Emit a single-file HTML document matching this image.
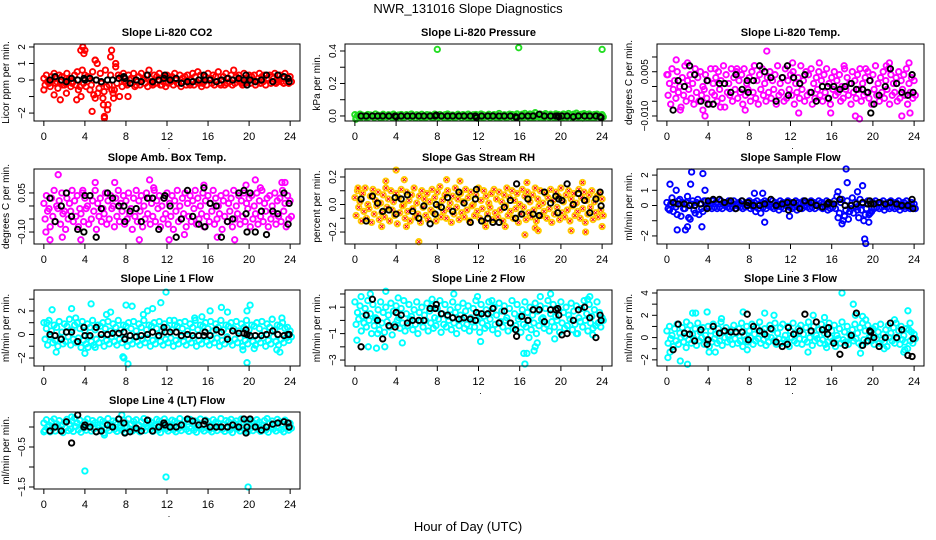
<!DOCTYPE html>
<html><head><meta charset="utf-8"><style>
html,body{margin:0;padding:0;background:#fff;}
svg{display:block;font-family:"Liberation Sans",sans-serif;}
</style></head><body>
<svg id="chart" width="936" height="540" viewBox="0 0 936 540">
<text x="468" y="13" text-anchor="middle" font-size="13">NWR_131016  Slope Diagnostics</text>
<text x="468" y="531" text-anchor="middle" font-size="13">Hour of Day (UTC)</text>
</svg>
<script>
const HOURS=[0,0.25,0.5,0.75,1,1.25,1.5,1.75,2,2.25,2.5,2.75,3,3.25,3.5,3.75,4,4.25,4.5,4.75,5,5.25,5.5,5.75,6,6.25,6.5,6.75,7,7.25,7.5,7.75,8,8.25,8.5,8.75,9,9.25,9.5,9.75,10,10.25,10.5,10.75,11,11.25,11.5,11.75,12,12.25,12.5,12.75,13,13.25,13.5,13.75,14,14.25,14.5,14.75,15,15.25,15.5,15.75,16,16.25,16.5,16.75,17,17.25,17.5,17.75,18,18.25,18.5,18.75,19,19.25,19.5,19.75,20,20.25,20.5,20.75,21,21.25,21.5,21.75,22,22.25,22.5,22.75,23,23.25,23.5,23.75,24];
const BLACK_HOURS=[0.6,1.1,1.7,2.2,2.7,3.3,3.9,4.0,4.5,5.1,5.6,6.2,6.7,7.3,7.8,7.9,8.4,9.0,9.5,10.1,10.6,11.2,11.7,11.8,12.3,12.9,13.4,14.0,14.5,15.1,15.6,15.7,16.2,16.8,17.3,17.9,18.4,19.0,19.5,19.7,19.8,20.1,20.6,21.2,21.7,22.3,22.8,23.4,23.8,23.9];
const X_TICKS=[0,4,8,12,16,20,24];

// CO2
const co2A=[0.1,0.3,-0.2,0.2,0.4,-0.1,0.3,0.2,-0.3,0.4,0.1,-0.2,0.3,0.5,-0.4,0.6,0.3,0.2,-0.6,0.5,1.2,-0.8,0.4,-1.1,0.6,-1.5,0.3,-0.8,0.8,0.3,0.2,0.4,-0.2,0.3,0.1,0.4,-0.3,0.2,0.4,0.1,0.3,0.6,-0.2,0.3,0.2,0.4,-0.3,0.2,0.3,0.1,0.2,0.4,-0.2,0.3,0.1,0.2,0.3,-0.3,0.4,0.2,0.5,0.3,-0.2,0.2,0.4,0.1,0.3,0.2,0.5,-0.3,0.2,0.4,0.1,0.3,0.6,0.2,0.3,-0.2,0.4,0.1,0.3,0.2,0.3,-0.1,0.4,0.2,0.3,0.1,0.3,0.2,0.4,-0.1,0.3,0.2,0.4,0.1,0.2];
const co2B=[-0.3,-0.1,-0.4,0.0,-0.2,-0.5,-0.1,-0.3,-0.2,0.0,-0.4,-0.1,-0.3,-0.6,-1.0,-0.2,-0.4,0.1,-0.3,-0.9,0.0,-0.5,-0.2,-0.7,-0.4,-0.3,-0.6,-0.6,-0.2,-1.0,-0.4,-0.1,-0.3,0.0,-0.2,-0.4,-0.1,-0.3,0.0,-0.2,-0.4,-0.1,-0.3,-0.2,0.0,-0.3,-0.1,-0.4,-0.2,-0.1,-0.3,0.0,-0.2,-0.4,-0.1,-0.3,-0.2,0.0,-0.3,-0.1,-0.2,-0.4,-0.1,-0.3,0.0,-0.2,-0.3,-0.1,-0.2,0.0,-0.3,-0.2,-0.1,-0.3,-0.2,0.0,-0.1,-0.3,-0.2,-0.1,-0.2,0.0,-0.3,-0.1,-0.2,-0.1,-0.3,0.0,-0.2,-0.1,-0.2,0.0,-0.1,-0.2,-0.1,-0.2,-0.1];
const co2OutH=[3.6,3.8,4.0,3.9,5.0,5.2,4.7,5.0,5.8,6.2,5.9,6.5,6.6,7.0,6.8,8.2,1.0,1.6,2.2,3.2,5.9,0.0];
const co2OutV=[1.8,2.0,1.8,1.6,1.2,1.0,-1.9,-1.1,-1.5,-1.8,-2.3,1.4,1.8,1.0,-1.1,-1.0,-0.9,-1.2,-0.8,-1.2,-2.2,-0.6];
const co2Blk=[0.0,0.2,0.0,-0.1,0.1,0.0,0.1,0.0,0.1,0.0,-0.1,0.0,0.0,0.1,0.2,0.1,-0.2,0.0,-0.1,0.3,-0.1,0.0,0.1,0.3,0.0,0.1,-0.2,-0.1,-0.1,0.0,0.3,0.0,0.0,-0.1,0.0,0.1,0.0,0.1,0.0,0.3,-0.3,0.0,-0.1,0.0,0.3,-0.1,0.3,0.2,0.1,-0.1];

// Pressure
const prsA=[0.008,0.002,0.011,0.004,-0.002,0.009,0.006,0.001,0.012,0.005,0.003,0.010,0.002,0.007,0.004,0.011,0.001,0.006,0.009,0.003,0.008,0.005,0.012,0.002,0.007,0.004,0.010,0.001,0.008,0.006,0.003,0.011,0.005,0.009,0.002,0.007,0.012,0.004,0.006,0.001,0.010,0.003,0.008,0.005,0.011,0.002,0.007,0.009,0.004,0.012,0.006,0.001,0.010,0.003,0.008,0.005,0.015,0.002,0.007,0.004,0.011,0.009,0.006,0.013,0.003,0.010,0.016,0.005,0.012,0.008,0.018,0.004,0.011,0.007,0.014,0.006,0.010,0.003,0.013,0.009,0.005,0.012,0.008,0.015,0.004,0.011,0.017,0.006,0.010,0.014,0.007,0.012,0.003,0.009,0.011,0.005,0.008];
const prsB=[-0.012,-0.004,-0.008,-0.002,-0.010,-0.005,-0.001,-0.009,-0.003,-0.007,-0.011,-0.004,-0.006,-0.002,-0.009,-0.005,-0.008,-0.003,-0.010,-0.006,-0.001,-0.007,-0.004,-0.011,-0.002,-0.008,-0.005,-0.009,-0.003,-0.006,-0.010,-0.004,-0.007,-0.002,-0.009,-0.005,-0.011,-0.003,-0.008,-0.006,-0.001,-0.010,-0.004,-0.007,-0.012,-0.005,-0.009,-0.014,-0.003,-0.008,-0.006,-0.002,-0.010,-0.004,-0.007,-0.005,-0.009,-0.003,-0.008,-0.006,-0.001,-0.010,-0.004,-0.007,-0.005,-0.009,-0.002,-0.008,-0.006,-0.011,-0.003,-0.007,-0.005,-0.009,-0.002,-0.008,-0.004,-0.010,-0.006,-0.003,-0.009,-0.005,-0.007,-0.002,-0.011,-0.004,-0.008,-0.006,-0.013,-0.003,-0.009,-0.005,-0.012,-0.007,-0.004,-0.010,-0.006];
const prsOutH=[8.0,15.9,24.0,0.1,17.5];
const prsOutV=[0.41,0.42,0.41,-0.02,0.02];
const prsBlk=[0.0,0.0,0.0,0.0,0.0,0.0,0.0,-0.005,0.0,0.0,0.0,0.0,0.0,0.0,0.0,0.005,0.0,0.0,0.0,0.0,0.0,0.0,0.0,-0.01,0.0,0.0,0.0,0.0,0.0,0.0,-0.005,-0.01,0.0,0.0,0.0,0.01,0.0,0.0,0.0,0.0,-0.005,0.0,0.0,-0.005,0.0,0.0,0.0,0.0,-0.005,-0.01];

// Li-820 temp
const tmpA=[0.004,0.001,0.006,0.002,0.005,0.000,0.003,0.007,0.002,0.004,0.001,0.006,0.003,0.005,0.000,0.004,0.002,0.006,0.001,0.003,0.005,0.002,0.007,0.004,0.001,0.006,0.003,0.005,0.002,0.004,0.006,0.001,0.003,0.005,0.007,0.002,0.004,0.006,0.001,0.003,0.005,0.002,0.004,0.007,0.001,0.003,0.006,0.002,0.004,0.005,0.001,0.003,0.007,0.002,0.005,0.004,0.006,0.001,0.003,0.005,0.002,0.004,0.006,0.001,0.003,0.005,0.002,0.004,0.000,0.006,0.003,0.001,0.005,0.002,0.004,0.006,0.001,0.003,0.005,0.002,0.004,0.007,0.001,0.003,0.005,0.002,0.006,0.004,0.001,0.003,0.005,0.002,0.004,0.006,0.001,0.003,0.002];
const tmpB=[-0.003,-0.006,-0.001,-0.004,-0.002,-0.007,-0.003,-0.005,-0.001,-0.004,-0.006,-0.002,-0.005,-0.003,-0.001,-0.004,-0.006,-0.002,-0.003,-0.005,-0.001,-0.004,-0.007,-0.002,-0.003,-0.005,-0.001,-0.004,-0.002,-0.006,-0.003,-0.001,-0.005,-0.002,-0.004,-0.006,-0.001,-0.003,-0.005,-0.002,-0.004,-0.001,-0.006,-0.003,-0.002,-0.005,-0.004,-0.001,-0.003,-0.006,-0.002,-0.004,-0.001,-0.005,-0.003,-0.002,-0.006,-0.004,-0.001,-0.003,-0.005,-0.002,-0.004,-0.006,-0.001,-0.003,-0.002,-0.005,-0.004,-0.001,-0.003,-0.006,-0.002,-0.004,-0.001,-0.005,-0.003,-0.002,-0.004,-0.006,-0.001,-0.003,-0.005,-0.002,-0.004,-0.001,-0.006,-0.003,-0.002,-0.005,-0.004,-0.001,-0.003,-0.006,-0.002,-0.004,-0.003];
const tmpOutH=[0.9,1.3,2.0,3.7,3.9,4.7,5.2,7.6,8.5,9.7,10.0,10.7,12.2,12.8,14.8,15.9,17.2,18.3,18.7,19.3,21.3,21.6,22.8,23.5,23.6,0.1,3.5,6.8];
const tmpOutV=[0.009,-0.008,0.008,-0.010,-0.013,0.006,-0.007,-0.008,0.007,0.012,-0.013,-0.012,0.008,-0.009,0.008,-0.009,0.007,-0.010,-0.011,0.006,0.007,0.008,-0.010,0.008,-0.009,0.004,-0.008,0.006];
const tmpBlk=[-0.008,0.002,0.000,0.007,0.004,-0.005,0.002,-0.006,-0.006,0.001,0.001,-0.002,0.004,-0.001,0.002,-0.002,0.002,0.007,0.005,0.003,-0.005,0.003,0.007,-0.003,0.003,0.001,0.004,-0.002,-0.005,0.000,0.000,-0.004,0.000,-0.001,0.000,0.001,-0.001,-0.001,-0.002,0.002,-0.009,-0.006,-0.003,0.000,0.006,0.001,-0.002,-0.003,0.004,-0.002];

// Amb box temp
const ambA=[0.01,0.04,-0.01,0.03,0.06,0.00,0.02,0.05,-0.02,0.03,0.01,0.06,0.02,0.04,-0.01,0.05,0.03,0.00,0.04,0.02,0.06,0.01,0.03,-0.01,0.05,0.02,0.04,0.00,0.03,0.06,0.01,0.04,0.02,0.05,-0.01,0.03,0.06,0.02,0.04,0.00,0.05,0.03,0.01,0.06,0.02,0.04,0.00,0.03,0.05,0.01,0.04,0.02,0.06,0.00,0.03,0.05,0.01,0.04,0.02,0.06,0.03,0.00,0.05,0.02,0.04,0.01,0.06,0.03,0.00,0.04,0.02,0.05,0.01,0.03,0.06,0.00,0.04,0.02,0.05,0.01,0.03,0.04,0.00,0.05,0.02,0.06,0.01,0.03,0.04,0.00,0.05,0.02,0.03,0.06,0.01,0.04,0.02];
const ambB=[-0.05,-0.02,-0.08,-0.04,-0.06,-0.01,-0.07,-0.03,-0.09,-0.05,-0.02,-0.06,-0.04,-0.08,-0.03,-0.06,-0.01,-0.07,-0.05,-0.02,-0.09,-0.04,-0.06,-0.03,-0.07,-0.05,-0.01,-0.08,-0.04,-0.06,-0.02,-0.07,-0.05,-0.03,-0.09,-0.04,-0.06,-0.02,-0.08,-0.05,-0.03,-0.07,-0.04,-0.06,-0.01,-0.08,-0.05,-0.03,-0.07,-0.04,-0.09,-0.02,-0.06,-0.05,-0.03,-0.08,-0.04,-0.06,-0.01,-0.07,-0.05,-0.03,-0.08,-0.04,-0.06,-0.02,-0.07,-0.05,-0.03,-0.09,-0.04,-0.06,-0.02,-0.08,-0.05,-0.03,-0.07,-0.04,-0.06,-0.01,-0.08,-0.05,-0.03,-0.07,-0.04,-0.06,-0.02,-0.08,-0.05,-0.03,-0.07,-0.04,-0.06,-0.02,-0.08,-0.05,-0.04];
const ambOutH=[0.2,0.6,1.4,1.8,3.6,4.3,4.5,5.0,6.9,8.8,9.3,10.3,10.7,12.2,13.7,15.6,18.6,19.7,20.2,20.6,21.1,22.2,22.7,23.2,23.5,3.8,16.9];
const ambOutV=[-0.10,-0.13,0.12,-0.12,-0.13,-0.15,-0.17,0.09,0.09,-0.15,-0.13,0.10,0.07,-0.13,-0.11,0.08,-0.13,0.08,-0.16,0.10,0.07,-0.16,-0.15,0.09,0.09,0.06,-0.12];
const ambBlk=[0.03,-0.06,0.00,0.05,-0.04,-0.09,-0.10,0.04,0.04,-0.12,-0.01,0.05,0.03,0.00,0.00,-0.06,-0.02,-0.01,-0.06,0.03,0.03,-0.09,0.03,0.04,0.00,-0.12,-0.05,0.06,-0.04,-0.07,0.07,-0.08,0.01,0.00,-0.12,-0.06,-0.05,0.05,0.06,-0.03,-0.10,0.05,-0.10,-0.02,-0.11,-0.02,-0.03,0.05,-0.07,0.01];

// Gas stream RH
const rhA=[0.05,0.10,0.02,0.08,0.12,0.00,0.06,0.11,0.03,0.09,0.01,0.07,0.12,0.04,0.10,0.02,0.08,0.05,0.11,0.00,0.09,0.03,0.07,0.12,0.01,0.06,0.10,0.04,0.08,0.02,0.11,0.05,0.09,0.13,0.03,0.07,0.10,0.01,0.06,0.12,0.04,0.08,0.02,0.11,0.05,0.09,0.00,0.07,0.12,0.03,0.10,0.06,0.01,0.08,0.11,0.04,0.09,0.02,0.07,0.12,0.05,0.10,0.03,0.08,0.00,0.11,0.06,0.09,0.02,0.07,0.12,0.04,0.10,0.01,0.08,0.05,0.11,0.03,0.09,0.06,0.12,0.02,0.07,0.10,0.04,0.08,0.01,0.11,0.05,0.09,0.03,0.07,0.10,0.02,0.06,0.08,0.04];
const rhB=[-0.08,-0.02,-0.12,-0.05,-0.10,-0.03,-0.13,-0.07,-0.01,-0.11,-0.06,-0.09,-0.02,-0.12,-0.04,-0.08,-0.14,-0.06,-0.01,-0.10,-0.05,-0.12,-0.03,-0.09,-0.07,-0.13,-0.02,-0.08,-0.11,-0.04,-0.06,-0.12,-0.01,-0.09,-0.05,-0.10,-0.03,-0.13,-0.07,-0.02,-0.11,-0.06,-0.09,-0.04,-0.12,-0.01,-0.08,-0.05,-0.10,-0.03,-0.13,-0.07,-0.02,-0.11,-0.06,-0.09,-0.04,-0.12,-0.01,-0.08,-0.05,-0.10,-0.03,-0.13,-0.07,-0.02,-0.11,-0.06,-0.09,-0.04,-0.12,-0.01,-0.08,-0.05,-0.10,-0.03,-0.13,-0.07,-0.02,-0.11,-0.06,-0.09,-0.04,-0.12,-0.01,-0.08,-0.05,-0.10,-0.03,-0.13,-0.07,-0.02,-0.11,-0.06,-0.09,-0.04,-0.08];
const rhOutH=[3.0,4.0,4.8,6.2,8.9,10.2,2.6,5.0,12.7,14.6,16.5,17.5,17.8,21.0,22.4,22.1,24.0,16.7,0.3];
const rhOutV=[0.17,0.25,0.18,-0.27,0.18,0.17,-0.16,-0.16,-0.16,-0.16,-0.22,-0.17,-0.19,-0.19,-0.20,0.16,-0.16,0.16,0.12];
const rhBlk=[0.04,-0.12,0.06,0.01,-0.05,-0.04,0.05,-0.07,0.04,0.07,-0.05,-0.10,-0.01,-0.14,-0.07,0.00,-0.02,0.05,-0.05,0.09,0.01,-0.13,0.04,0.11,-0.12,-0.10,-0.13,-0.13,-0.02,0.03,-0.10,0.15,-0.07,0.04,-0.07,-0.08,0.09,0.01,0.06,-0.06,0.04,0.03,0.15,0.00,0.08,0.03,-0.06,0.04,0.09,-0.01];

// Sample flow
const sfA=[0.2,-0.3,0.5,0.1,-0.6,0.4,0.2,-0.2,0.6,-0.9,0.3,-0.5,0.4,0.1,-0.4,0.3,0.2,0.1,0.3,0.2,0.1,0.3,0.2,0.1,0.3,0.2,0.3,0.1,0.2,0.3,0.1,0.2,0.3,0.1,0.2,0.3,0.1,0.2,0.3,0.2,0.1,0.3,0.2,0.1,0.3,0.2,0.1,0.3,0.2,0.1,0.3,0.2,0.1,0.3,0.2,0.1,0.3,0.2,0.1,0.3,0.2,0.1,0.3,0.2,0.1,0.3,0.6,-0.5,0.4,-0.7,0.3,-0.4,0.5,0.2,-0.3,0.4,0.1,-0.6,0.3,-0.5,0.2,0.3,0.1,0.2,0.3,0.1,0.2,0.3,0.1,0.2,0.3,0.1,0.2,0.3,0.1,0.2,0.1];
const sfB=[-0.2,0.1,-0.4,-0.1,0.3,-0.7,-0.2,0.2,-0.8,0.1,-0.3,0.2,-0.6,-0.2,0.3,-0.1,-0.1,-0.2,-0.1,-0.2,-0.1,-0.2,0.0,-0.1,-0.2,-0.1,-0.2,0.0,-0.1,-0.2,-0.1,0.0,-0.2,-0.1,-0.4,-0.2,-0.5,-0.1,-0.2,0.0,-0.1,-0.2,-0.1,-0.3,-0.1,-0.2,0.0,-0.1,-0.2,-0.1,-0.3,-0.1,-0.2,0.0,-0.1,-0.2,-0.1,-0.2,0.0,-0.1,-0.2,-0.1,-0.3,-0.2,-0.1,-0.2,-0.8,0.2,-1.0,-0.3,-0.9,-0.2,-0.5,-0.1,-0.8,-0.3,-1.0,-0.2,-0.6,-0.4,-0.2,-0.1,-0.2,-0.1,-0.3,-0.1,-0.2,-0.1,-0.2,-0.1,-0.3,-0.1,-0.2,-0.1,-0.2,-0.1,-0.2];
const sfOutH=[0.3,1.0,1.8,2.0,2.3,2.4,3.4,3.5,3.7,8.5,9.3,9.5,16.6,17.0,17.4,17.5,18.5,19.0,19.2,19.3,19.6,11.9,0.9];
const sfOutV=[1.4,-1.6,-1.6,-1.4,1.4,2.2,-1.4,2.1,1.0,0.8,0.8,-1.1,0.9,-1.2,2.4,1.5,0.9,1.3,-2.2,-2.5,-1.1,-0.7,1.0];
const sfBlk=[0.2,0.1,0.1,0.0,0.0,0.1,-0.2,0.3,0.4,0.4,0.2,0.3,-0.2,0.3,0.0,0.2,0.0,0.0,0.1,0.4,0.0,0.1,0.2,-0.3,0.2,-0.2,0.3,0.2,0.0,-0.1,0.1,0.2,0.1,0.4,0.0,0.0,0.1,0.2,0.1,0.3,0.1,0.1,0.2,0.1,0.2,0.1,0.0,0.0,0.4,-0.2];

// Line 1 flow
const l1A=[1.0,0.5,1.2,0.3,0.8,0.6,1.1,0.2,0.9,0.7,1.3,0.4,0.8,1.0,0.5,1.1,0.3,0.9,0.6,1.2,0.4,0.8,0.7,1.0,0.5,1.1,0.3,0.9,0.6,1.2,0.4,0.8,0.7,1.0,0.5,1.1,0.3,0.9,0.6,1.2,0.4,0.8,0.7,1.0,0.5,1.1,0.3,0.9,0.6,1.2,0.4,0.8,0.7,1.0,0.5,1.1,0.3,0.9,0.6,1.2,0.4,0.8,0.7,1.0,0.5,1.1,0.3,0.9,0.6,1.2,0.4,0.8,0.7,1.0,0.5,1.1,0.3,0.9,0.6,1.2,0.4,0.8,0.7,1.0,0.5,1.1,0.3,0.9,0.6,1.3,0.4,0.8,0.7,1.0,0.5,0.6,0.3];
const l1B=[-0.4,-0.9,-0.2,-0.7,-0.5,-1.0,-0.3,-0.8,-0.6,-0.2,-0.9,-0.4,-0.7,-0.3,-1.1,-0.5,-0.8,-0.2,-0.6,-0.9,-0.4,-0.7,-0.3,-1.0,-0.5,-0.8,-0.2,-0.6,-0.9,-0.4,-0.7,-0.3,-1.0,-0.5,-0.8,-0.2,-0.6,-0.9,-0.4,-0.7,-0.3,-1.0,-0.5,-0.8,-0.2,-0.6,-0.9,-0.4,-0.7,-0.3,-1.0,-0.5,-0.8,-0.2,-0.6,-0.9,-0.4,-0.7,-0.3,-1.0,-0.5,-0.8,-0.2,-0.6,-0.9,-0.4,-0.7,-0.3,-1.0,-0.5,-0.8,-0.2,-0.6,-0.9,-0.4,-0.7,-0.3,-1.0,-0.5,-0.8,-0.2,-0.6,-0.9,-0.4,-0.7,-0.3,-1.0,-0.5,-0.8,-0.2,-0.6,-0.9,-0.4,-0.7,-0.3,-0.5,-0.2];
const l1OutH=[0.8,1.2,2.7,3.1,4.0,4.3,4.6,5.0,6.1,6.5,7.7,7.8,8.0,8.2,8.6,9.7,10.1,10.6,11.4,11.9,12.7,14.7,15.4,16.2,17.3,17.9,19.4,19.8,19.8,20.1,20.5,22.7,23.0,23.2,0.3];
const l1OutV=[2.1,-1.5,2.2,1.4,-1.6,-1.1,2.6,-1.1,1.7,1.9,-1.9,-2.0,2.5,-2.5,2.4,1.7,2.0,2.2,2.7,3.6,1.2,1.4,1.5,2.0,2.3,1.9,-1.3,2.0,-2.4,2.5,-1.2,-1.3,-1.5,1.4,1.0];
const l1Blk=[0.0,-0.1,-0.4,0.2,0.2,-0.6,0.6,-0.1,-0.1,0.6,0.0,0.0,0.1,0.1,0.2,-0.4,-0.1,-0.2,-0.1,0.0,0.2,-0.1,0.6,0.2,0.2,0.2,-0.1,0.0,-0.1,-0.1,-0.1,0.2,-0.1,0.4,0.2,-0.4,0.3,0.1,0.1,0.4,0.0,-0.1,-0.1,-0.1,0.0,0.3,0.0,-0.1,0.0,0.0];

// Line 2 flow
const l2A=[1.4,0.6,1.1,0.3,0.9,1.5,0.5,1.2,0.2,0.8,1.4,0.6,1.0,0.4,1.3,0.7,1.1,0.2,0.9,1.5,0.5,1.2,0.3,0.8,1.4,0.6,1.0,0.4,1.3,0.7,1.1,0.2,0.9,1.5,0.5,1.2,0.3,0.8,1.4,0.6,1.0,0.4,1.3,0.7,1.1,0.2,0.9,1.5,0.5,1.2,0.3,0.8,1.4,0.6,1.0,0.4,1.3,0.7,1.1,0.2,0.9,1.5,0.5,1.2,0.3,0.8,1.4,0.6,1.0,0.4,1.3,0.7,1.1,0.2,0.9,1.5,0.5,1.2,0.3,0.8,1.4,0.6,1.0,0.4,1.3,0.7,1.1,0.2,0.9,1.5,0.5,1.2,0.3,0.8,1.4,0.6,0.2];
const l2B=[-0.3,0.1,-0.8,-0.2,-0.5,0.0,-1.0,-0.4,0.1,-0.7,-0.2,-0.9,-0.1,-0.5,-1.1,-0.3,0.0,-0.6,-0.2,-0.8,-0.4,0.1,-0.7,-0.3,-1.0,-0.1,-0.5,0.0,-0.8,-0.2,-0.6,-0.4,0.1,-0.9,-0.3,-0.5,0.0,-0.7,-0.2,-1.0,-0.4,0.1,-0.6,-0.3,-0.8,-0.1,-0.5,0.0,-0.9,-0.2,-0.6,-0.4,0.1,-0.7,-0.3,-1.0,-0.1,-0.5,0.0,-0.8,-0.2,-0.6,-0.4,0.1,-0.9,-0.3,-0.5,0.0,-0.7,-0.2,-1.0,-0.4,0.1,-0.6,-0.3,-0.8,-0.1,-0.5,0.0,-0.9,-0.2,-0.6,-0.4,0.1,-0.7,-0.3,-1.0,-0.1,-0.5,0.0,-0.8,-0.2,-0.6,-0.4,-0.2,-0.5,0.0];
const l2OutH=[0.2,0.6,1.3,1.5,2.1,2.2,2.9,3.0,4.2,4.6,7.5,9.6,11.9,12.2,13.3,16.4,16.5,16.7,16.9,17.4,17.5,17.7,18.0,19.0,19.4,21.5,22.6,22.8,23.1];
const l2OutV=[-1.5,1.8,-2.0,2.0,-2.1,-1.0,-2.0,2.2,1.7,-1.7,1.6,2.0,1.8,-1.6,1.5,-2.5,-3.3,-2.5,-1.3,-2.3,-2.0,-1.7,1.8,2.0,-1.4,-1.0,1.6,1.8,-1.1];
const l2Blk=[-2.0,0.4,1.6,0.0,-1.4,-0.4,-0.5,0.6,0.4,-0.2,0.0,0.0,0.0,0.9,0.9,1.2,0.5,0.4,0.2,0.1,0.2,0.1,0.0,0.6,0.5,0.5,0.9,-0.2,0.7,-0.2,-0.7,-1.2,0.3,0.0,0.8,0.8,-0.1,0.8,0.8,0.9,0.4,-1.1,-1.0,0.0,0.8,1.0,0.2,-1.3,0.4,0.0];

// Line 3 flow
const l3A=[0.6,1.0,0.2,0.8,1.2,0.4,0.9,0.1,0.7,1.1,0.3,0.8,1.3,0.5,0.9,0.2,1.0,0.6,1.2,0.3,0.8,1.4,0.5,0.9,0.1,0.7,1.1,0.4,0.8,1.3,0.2,1.0,0.6,1.2,0.3,0.9,1.4,0.5,0.8,0.1,1.1,0.7,1.3,0.4,0.9,1.2,0.2,1.0,0.6,1.3,0.4,0.8,1.1,0.3,0.9,1.4,0.5,1.0,0.2,0.7,1.2,0.4,0.9,1.3,0.6,1.1,0.2,0.8,1.4,0.5,1.0,0.3,0.7,1.2,0.4,0.9,1.3,0.6,1.1,0.2,0.8,1.0,0.5,1.2,0.3,0.7,1.1,0.4,0.9,1.3,0.6,1.0,0.2,0.8,0.7,0.5,0.3];
const l3B=[-0.5,-0.1,-0.8,-0.3,-0.6,0.0,-0.4,-0.9,-0.2,-0.5,-0.1,-0.7,-0.3,0.0,-0.6,-0.2,-0.8,-0.4,-0.1,-0.5,-0.3,-0.7,0.0,-0.4,-0.2,-0.6,-0.1,-0.5,-0.3,-0.8,-0.2,-0.4,0.0,-0.6,-0.3,-0.1,-0.5,-0.2,-0.7,-0.4,0.0,-0.3,-0.6,-0.1,-0.5,-0.2,-0.4,-0.8,0.0,-0.3,-0.5,-0.1,-0.6,-0.2,-0.4,0.0,-0.7,-0.3,-0.1,-0.5,-0.2,-0.6,-0.4,0.0,-0.3,-0.8,-0.1,-0.5,-0.2,-0.4,-0.6,0.0,-0.3,-0.1,-0.5,-0.7,-0.2,-0.4,0.0,-0.3,-0.6,-0.1,-0.5,-0.2,-0.4,-0.8,0.0,-0.3,-0.5,-0.1,-0.6,-0.2,-0.4,-1.0,-0.3,-0.5,-0.1];
const l3OutH=[0.1,0.3,1.3,1.9,2.0,2.5,2.8,3.9,4.1,4.7,5.3,7.4,7.8,9.5,10.4,13.7,14.2,15.3,15.5,17.0,18.1,18.3,18.8,19.0,19.3,21.1,22.1,23.0,23.1,23.4,23.6];
const l3OutV=[-1.8,-1.3,-2.1,1.4,-2.4,2.2,2.2,2.3,-1.3,-1.3,1.7,2.3,-1.1,2.2,2.0,-1.3,2.0,1.8,-0.9,4.0,3.0,2.0,-1.4,1.9,1.6,-1.0,1.6,-1.3,-1.1,2.4,1.3];
const l3Blk=[-1.1,1.2,0.4,0.3,-0.3,0.7,-0.6,-0.2,1.0,0.4,0.6,0.5,0.5,0.5,2.1,-0.2,1.0,0.6,0.3,0.8,-0.4,-0.8,-0.6,0.9,0.3,0.6,2.1,0.6,1.4,0.7,0.3,0.9,-0.5,-1.5,-0.7,0.2,2.2,-0.7,-0.3,0.6,0.5,0.0,-0.8,0.0,1.3,0.0,0.7,-1.6,-1.7,-0.1];

// Line 4 flow
const l4A=[0.10,0.18,0.05,0.14,0.20,0.08,0.16,0.03,0.12,0.19,0.07,0.15,0.22,0.10,0.17,0.04,0.13,0.20,0.08,0.16,0.11,0.05,0.18,0.14,0.09,0.21,0.06,0.15,0.12,0.19,0.03,0.17,0.10,0.20,0.07,0.14,0.18,0.05,0.13,0.21,0.09,0.16,0.11,0.04,0.19,0.15,0.08,0.20,0.12,0.06,0.17,0.14,0.10,0.21,0.05,0.16,0.13,0.19,0.08,0.15,0.11,0.20,0.07,0.17,0.14,0.04,0.18,0.12,0.09,0.21,0.06,0.16,0.13,0.19,0.10,0.15,0.08,0.20,0.11,0.05,0.17,0.14,0.09,0.18,0.12,0.06,0.16,0.21,0.10,0.15,0.08,0.19,0.13,0.07,0.17,0.11,0.09];
const l4B=[-0.08,0.00,-0.12,-0.04,-0.10,0.02,-0.06,-0.14,-0.02,-0.09,-0.05,-0.11,0.01,-0.07,-0.13,-0.03,-0.08,0.00,-0.10,-0.05,-0.12,-0.02,-0.07,-0.15,-0.04,-0.09,0.01,-0.06,-0.11,-0.03,-0.08,-0.13,0.00,-0.05,-0.10,-0.02,-0.07,-0.12,-0.04,-0.09,0.01,-0.06,-0.11,-0.03,-0.08,-0.14,-0.01,-0.05,-0.10,-0.02,-0.07,-0.12,-0.04,-0.09,0.00,-0.06,-0.11,-0.03,-0.08,-0.13,-0.01,-0.05,-0.10,-0.02,-0.07,-0.12,-0.04,-0.09,0.01,-0.06,-0.11,-0.03,-0.08,-0.14,-0.01,-0.05,-0.10,-0.02,-0.07,-0.12,-0.04,-0.09,0.00,-0.06,-0.11,-0.03,-0.08,-0.13,-0.01,-0.05,-0.10,-0.02,-0.07,-0.12,-0.04,-0.08,-0.03];
const l4OutH=[4.0,11.9,19.9,7.6,5.9,0.0,2.7];
const l4OutV=[-1.1,-1.25,-1.5,0.3,-0.2,-0.12,0.25];
const l4Blk=[-0.1,0.0,-0.1,0.13,-0.4,0.3,0.0,0.05,0.0,-0.12,-0.1,0.05,0.0,0.2,0.1,-0.15,-0.12,-0.03,-0.1,0.17,-0.1,0.0,0.1,0.05,0.0,0.0,0.05,0.2,0.15,0.05,0.07,0.15,0.0,0.0,0.0,0.0,0.05,0.0,0.2,-0.15,0.0,0.2,0.0,-0.08,0.0,0.07,0.1,0.13,0.1,0.0];

const COLS=[[34,300],[345,612],[657,924]];
const ROWS=[[44,121],[169,244],[290,366],[412,489]];
const NS="http://www.w3.org/2000/svg";
const svg=document.getElementById('chart');
function mk(tag,attrs,parent){const e=document.createElementNS(NS,tag);for(const k in attrs)e.setAttribute(k,attrs[k]);(parent||svg).appendChild(e);return e;}

const panels=[
 {slug:'co2',title:'Slope Li-820 CO2',ylab:'Licor ppm per min.',col:0,row:0,ymin:-2.48,ymax:2.18,yt:[-2,-1,0,1,2],yl:['\u22122','','0','1','2'],color:'#ff0000',a:co2A,b:co2B,oh:co2OutH,ov:co2OutV,blk:co2Blk},
 {slug:'pressure',title:'Slope Li-820 Pressure',ylab:'kPa per min.',col:1,row:0,ymin:-0.031,ymax:0.443,yt:[0,0.1,0.2,0.3,0.4],yl:['0.0','','0.2','','0.4'],color:'#22dd22',a:prsA,b:prsB,oh:prsOutH,ov:prsOutV,blk:prsBlk},
 {slug:'li820-temp',title:'Slope Li-820 Temp.',ylab:'degrees C per min.',col:2,row:0,ymin:-0.0117,ymax:0.0144,yt:[-0.01,-0.005,0,0.005,0.01],yl:['\u22120.010','','','0.005',''],color:'#ff00ff',a:tmpA,b:tmpB,oh:tmpOutH,ov:tmpOutV,blk:tmpBlk},
 {slug:'amb-box-temp',title:'Slope Amb. Box Temp.',ylab:'degrees C per min.',col:0,row:1,ymin:-0.146,ymax:0.142,yt:[-0.1,-0.05,0,0.05],yl:['\u22120.10','','','0.05'],color:'#ff00ff',a:ambA,b:ambB,oh:ambOutH,ov:ambOutV,blk:ambBlk},
 {slug:'gas-stream-rh',title:'Slope Gas Stream RH',ylab:'percent per min.',col:1,row:1,ymin:-0.287,ymax:0.258,yt:[-0.2,-0.1,0,0.1,0.2],yl:['\u22120.2','','0.0','','0.2'],color:'#ffcc00',cross:'#ff0000',a:rhA,b:rhB,oh:rhOutH,ov:rhOutV,blk:rhBlk},
 {slug:'sample-flow',title:'Slope Sample Flow',ylab:'ml/min per min.',col:2,row:1,ymin:-2.53,ymax:2.4,yt:[-2,-1,0,1,2],yl:['\u22122','','0','1','2'],color:'#0000ff',a:sfA,b:sfB,oh:sfOutH,ov:sfOutV,blk:sfBlk},
 {slug:'line1-flow',title:'Slope Line 1 Flow',ylab:'ml/min per min.',col:0,row:2,ymin:-2.68,ymax:3.78,yt:[-2,-1,0,1,2,3],yl:['\u22122','','0','','2',''],color:'#00ffff',a:l1A,b:l1B,oh:l1OutH,ov:l1OutV,blk:l1Blk},
 {slug:'line2-flow',title:'Slope Line 2 Flow',ylab:'ml/min per min.',col:1,row:2,ymin:-3.45,ymax:2.3,yt:[-3,-2,-1,0,1,2],yl:['\u22123','','\u22121','','1',''],color:'#00ffff',a:l2A,b:l2B,oh:l2OutH,ov:l2OutV,blk:l2Blk},
 {slug:'line3-flow',title:'Slope Line 3 Flow',ylab:'ml/min per min.',col:2,row:2,ymin:-2.55,ymax:4.27,yt:[-2,-1,0,1,2,3,4],yl:['\u22122','','0','','2','','4'],color:'#00ffff',a:l3A,b:l3B,oh:l3OutH,ov:l3OutV,blk:l3Blk},
 {slug:'line4-flow',title:'Slope Line 4 (LT) Flow',ylab:'ml/min per min.',col:0,row:3,ymin:-1.55,ymax:0.375,yt:[-1.5,-1,-0.5,0],yl:['\u22121.5','','\u22120.5',''],color:'#00ffff',a:l4A,b:l4B,oh:l4OutH,ov:l4OutV,blk:l4Blk}
];

panels.forEach(p=>{
  const [x0,x1]=COLS[p.col],[y0,y1]=ROWS[p.row];
  const sx=h=>x0+(h+0.96)/25.92*(x1-x0);
  const sy=v=>y1-(v-p.ymin)/(p.ymax-p.ymin)*(y1-y0);
  const g=mk('g',{});
  
  
  const t=mk('text',{x:(x0+x1)/2,y:y0-8,'text-anchor':'middle','font-size':'11','font-weight':'bold'},g);
  t.textContent=p.title;
  
  
  const cx=x0-25,cy=(y0+y1)/2;
  const yl=mk('text',{x:cx,y:cy,'text-anchor':'middle','font-size':'10',transform:`rotate(-90 ${cx} ${cy})`},g);
  yl.textContent=p.ylab;
  
  
  const pts=mk('g',{},g);
  
  
  const clip=v=>v>=p.ymin&&v<=p.ymax;
  function dot(h,v,color,cross){
    if(!clip(v))return;
    const X=sx(h),Y=sy(v);
    const c=mk('circle',{cx:X.toFixed(1),cy:Y.toFixed(1),r:2.7,fill:'none',stroke:color,'stroke-width':1.9},pts);
    
    
    if(cross){mk('path',{d:`M${(X-1.5).toFixed(1)} ${(Y-1.5).toFixed(1)}l3 3m0 -3l-3 3`,stroke:cross,'stroke-width':0.9},pts);}
  }
  for(let i=0;i<HOURS.length;i++){if(p.a[i]!==undefined)dot(HOURS[i],p.a[i],p.color,p.cross);}
  for(let i=0;i<HOURS.length;i++){if(p.b[i]!==undefined)dot(HOURS[i]+0.12,p.b[i],p.color,p.cross);}
  for(let i=0;i<p.oh.length&&i<p.ov.length;i++)dot(p.oh[i],p.ov[i],p.color,p.cross);
  for(let i=0;i<BLACK_HOURS.length&&i<p.blk.length;i++)dot(BLACK_HOURS[i],p.blk[i],'#000000');
  const box=mk('rect',{x:x0,y:y0,width:x1-x0,height:y1-y0,fill:'none',stroke:'#000','stroke-width':1},g);
  
  
  const xa=mk('g',{},g);
  
  
  mk('line',{x1:sx(X_TICKS[0]),x2:sx(X_TICKS[X_TICKS.length-1]),y1:y1,y2:y1,stroke:'#000'},xa);
  X_TICKS.forEach(h=>{
    mk('line',{x1:sx(h),x2:sx(h),y1:y1,y2:y1+5,stroke:'#000'},xa);
    const tl=mk('text',{x:sx(h),y:y1+19,'text-anchor':'middle','font-size':'11'},xa);
    tl.textContent=String(h);
  });
  const dt=mk('text',{x:(x0+x1)/2+2,y:y1+28,'text-anchor':'middle','font-size':'9'},xa);
  dt.textContent='.';
  const ya=mk('g',{},g);
  
  
  mk('line',{x1:x0,x2:x0,y1:sy(p.yt[0]),y2:sy(p.yt[p.yt.length-1]),stroke:'#000'},ya);
  p.yt.forEach((v,i)=>{
    const Y=sy(v);
    mk('line',{x1:x0-5,x2:x0,y1:Y,y2:Y,stroke:'#000'},ya);
    if(p.yl[i]){
      const lx=x0-9;
      const tl=mk('text',{x:lx,y:Y,'text-anchor':'middle','font-size':'10',transform:`rotate(-90 ${lx} ${Y})`},ya);
      tl.textContent=p.yl[i];
    }
  });
});
</script>
</body></html>
